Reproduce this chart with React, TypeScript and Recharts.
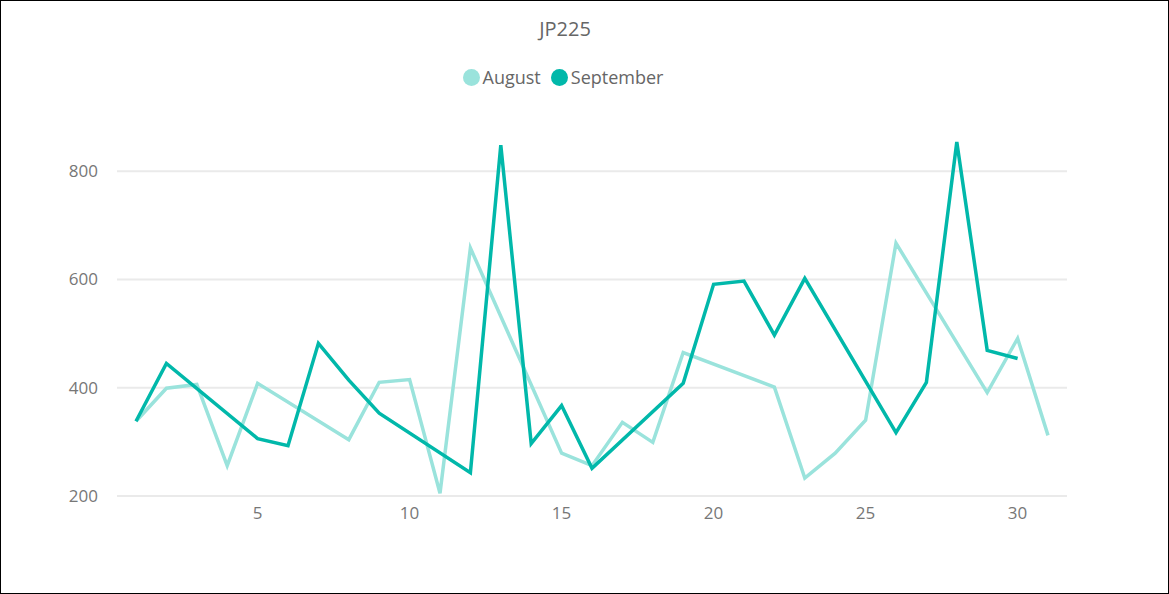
import { LineChart, Line, XAxis, YAxis, CartesianGrid } from "recharts";

const days = [
  1, 2, 3, 4, 5, 6, 7, 8, 9, 10, 11, 12, 13, 14, 15, 16, 17, 18, 19, 20, 21,
  22, 23, 24, 25, 26, 27, 28, 29, 30, 31,
];

// null = no value that day, the line is joined across it
const august = [
  338, 399, 406, 256, 408, null, null, 304, 410, 415, 205, 658, null, null,
  279, 256, 336, 299, 465, null, null, 401, 233, 279, 340, 667, null, null,
  391, 491, 312,
];

const september = [
  338, 445, null, null, 306, 293, 482, 414, 353, null, null, 243, 848, 297,
  367, 251, null, null, 408, 591, 597, 497, 602, null, null, 317, 410, 854,
  469, 454, null,
];

const xTicks = [5, 10, 15, 20, 25, 30];
const yTicks = [200, 400, 600, 800];

const seriesNames = ["August", "September"];
const seriesColors = ["#9ae3dc", "#01b8aa"];

const data = days.map((d, i) => ({
  day: d,
  August: august[i],
  September: september[i],
}));

const font = "'Open Sans', 'Noto Sans', sans-serif";

export default function App() {
  return (
    <div
      style={{
        position: "relative",
        width: 1169,
        height: 594,
        background: "#fff",
        fontFamily: font,
      }}
    >
      <style>{"body{margin:0}"}</style>

      <div
        style={{
          position: "absolute",
          top: 14,
          left: 0,
          width: 1130,
          textAlign: "center",
          fontSize: 20,
          color: "#666",
          lineHeight: "30px",
        }}
      >
        JP225
      </div>

      <div
        style={{
          position: "absolute",
          top: 64,
          left: 0,
          width: 1126,
          display: "flex",
          justifyContent: "center",
          alignItems: "center",
          gap: 10,
          fontSize: 18,
          color: "#666",
          lineHeight: "26px",
        }}
      >
        {seriesNames.map((name, i) => (
          <div key={name} style={{ display: "flex", alignItems: "center" }}>
            <span
              style={{
                display: "inline-block",
                width: 17,
                height: 17,
                borderRadius: "50%",
                background: seriesColors[i],
                marginRight: 3,
              }}
            />
            {name}
          </div>
        ))}
      </div>

      <LineChart
        width={1169}
        height={594}
        data={data}
        margin={{ top: 117, right: 102, bottom: 0, left: 0 }}
      >
        <CartesianGrid
          vertical={false}
          horizontalValues={yTicks}
          stroke="#eaeaea"
          strokeWidth={2}
        />

        <XAxis
          dataKey="day"
          type="number"
          domain={[1, 31]}
          ticks={xTicks}
          padding={{ left: 19, right: 19 }}
          axisLine={false}
          tickLine={false}
          tickSize={0}
          tickMargin={11}
          height={98}
          tick={{ fill: "#777", fontSize: 17, fontFamily: font }}
        />

        <YAxis
          domain={[200, 900]}
          ticks={yTicks}
          allowDataOverflow
          axisLine={false}
          tickLine={false}
          tickSize={0}
          tickMargin={19}
          width={117}
          tick={{ fill: "#777", fontSize: 17, fontFamily: font }}
        />

        {seriesNames.map((name, i) => (
          <Line
            key={name}
            type="linear"
            dataKey={name}
            stroke={seriesColors[i]}
            strokeWidth={3.5}
            dot={false}
            connectNulls
            isAnimationActive={false}
          />
        ))}
      </LineChart>

      <div
        style={{
          position: "absolute",
          inset: 0,
          border: "1px solid #000",
          pointerEvents: "none",
        }}
      />
    </div>
  );
}
